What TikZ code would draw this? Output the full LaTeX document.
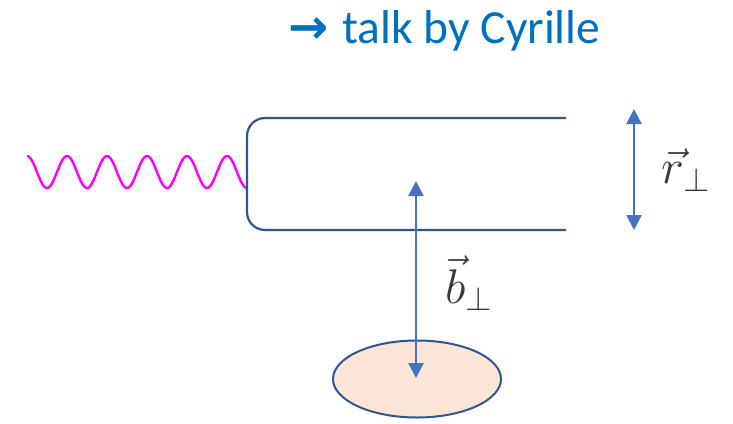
\documentclass[tikz,border=0pt]{standalone}
\usepackage{fontspec}
\setmainfont{Carlito}
\newfontfamily\arrowfont{DejaVu Sans}
\usetikzlibrary{arrows.meta,shapes.geometric}
\definecolor{boxblue}{HTML}{2F5597}
\definecolor{arrblue}{HTML}{4472C4}
\definecolor{titleblue}{HTML}{0070C0}
\definecolor{targetfill}{HTML}{FBE5D6}
\definecolor{labelgrey}{HTML}{3A3A3A}
\definecolor{wavemagenta}{HTML}{FF00FF}
\tikzset{
  dipole/.style={draw=boxblue, line width=2.2pt, rounded corners=18pt},
  wave/.style={draw=wavemagenta, line width=2.4pt},
  dimarrow/.style={draw=arrblue, line width=2.4pt, {Triangle[width=15pt,length=15pt]}-{Triangle[width=15pt,length=15pt]}, fill=arrblue},
  targetstyle/.style={ellipse, draw=boxblue, line width=2pt, fill=targetfill, minimum width=168pt, minimum height=77pt, inner sep=0pt},
  mathlabel/.style={text=labelgrey, font=\fontsize{20}{24}\selectfont, inner sep=0pt, scale=2.35},
}
\begin{document}
\begin{tikzpicture}[x=1pt,y=-1pt]
\useasboundingbox (0,0) rectangle (733,423);
% title
\node[text=titleblue, font=\fontsize{47.5}{52}\selectfont, anchor=base west, inner sep=0pt] (title) at (288,43) {{\arrowfont\bfseries\fontsize{48}{52}\selectfont →}\hspace{14pt}talk by Cyrille};
% photon wave
\coordinate (wavestart) at (27,156);
\coordinate (waveend) at (247,188);
\draw[wave] plot[domain=27:247, samples=300] (\x, {172-16*cos((\x-27)*9)});
% dipole
\coordinate (topend) at (566,118);
\coordinate (botend) at (566,230);
\draw[dipole] (topend) -- (247,118) -- (247,230) -- (botend);
% target
\node[targetstyle] (target) at (417,379) {};
% r_perp arrow
\coordinate (rtop) at (634,109);
\coordinate (rbot) at (634,230);
\draw[dimarrow] (rtop) -- (rbot);
\node[mathlabel] (rlabel) at (686,170) {$\vec{r}_{\perp}$};
% b_perp arrow
\coordinate (btop) at (416,181);
\coordinate (bbot) at (416,378);
\draw[dimarrow] (btop) -- (bbot);
\node[mathlabel] (blabel) at (469,283) {$\vec{b}_{\perp}$};
\end{tikzpicture}
\end{document}
